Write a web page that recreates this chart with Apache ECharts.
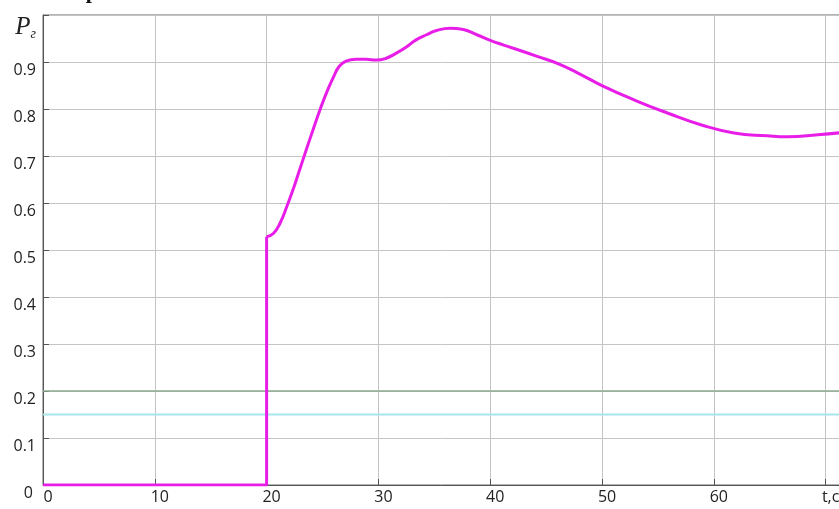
<!DOCTYPE html>
<html>
<head>
<meta charset="utf-8">
<script src="https://cdn.jsdelivr.net/npm/echarts@6/dist/echarts.min.js"></script>
<style>html,body{margin:0;padding:0;background:#fff}#c{width:839px;height:509px}</style>
</head>
<body>
<div id="c"></div>
<script>
// time, s
const tValues = [0, 20, 20, 20.6, 21.2, 21.8, 22.4, 23.0, 23.6, 24.2, 24.8, 25.4, 26.0, 26.5, 27.1, 28.0, 28.9, 29.8, 30.7, 31.6, 32.5, 33.3, 34.3, 35.2, 36.4, 37.6, 38.8, 40.0, 41.2, 42.6, 44.2, 46.0, 47.8, 49.9, 52.9, 55.9, 58.9, 61.8, 64.8, 66.6, 69.3, 71.5];
// generator power
const pValues = [0, 0, 0.528, 0.535, 0.557, 0.592, 0.631, 0.674, 0.717, 0.759, 0.800, 0.837, 0.869, 0.891, 0.902, 0.906, 0.906, 0.904, 0.908, 0.919, 0.932, 0.946, 0.958, 0.967, 0.972, 0.969, 0.958, 0.946, 0.936, 0.925, 0.912, 0.897, 0.877, 0.851, 0.819, 0.791, 0.766, 0.749, 0.743, 0.741, 0.745, 0.750];
// horizontal reference levels
const greenLevel = 0.2;
const cyanLevel = 0.15;
const xTicks = [0, 10, 20, 30, 40, 50, 60, 70];
const xNameLabel = 't,c';
const yNameMain = 'P';
const yNameSub = 'г';

const pts = tValues.map((t, i) => [t, pValues[i]]);
const stepPart = pts.slice(0, 3);
const curvePart = pts.slice(2);
const X_MAX = 72;

const chart = echarts.init(document.getElementById('c'), null, {renderer: 'canvas'});
chart.setOption({
  backgroundColor: '#fff',
  animation: false,
  grid: {left: 43, top: 15, right: -9, bottom: 24, show: true, borderColor: '#666', borderWidth: 1, containLabel: false, outerBoundsMode: 'none'},
  xAxis: {
    type: 'value', min: 0, max: X_MAX, interval: 10,
    axisLine: {show: true, lineStyle: {color: '#555', width: 1}},
    axisTick: {show: true, inside: true, length: 6, lineStyle: {color: '#555'}},
    splitLine: {show: true, lineStyle: {color: '#c4c4c4', width: 1}},
    axisLabel: {
      fontFamily: 'Open Sans', fontSize: 16, color: '#222', margin: 4,
      padding: [0, 0, 0, 10],
      showMaxLabel: true,
      formatter: v => {
        if (v === 70) return xNameLabel;
        return xTicks.includes(v) ? String(v) : '';
      }
    }
  },
  yAxis: {
    type: 'value', min: 0, max: 1, interval: 0.1,
    axisLine: {show: true, lineStyle: {color: '#555', width: 1}},
    axisTick: {show: true, inside: true, length: 6, lineStyle: {color: '#555'}},
    splitLine: {show: true, lineStyle: {color: '#c4c4c4', width: 1}},
    axisLabel: {
      fontFamily: 'Open Sans', fontSize: 16, color: '#222', margin: 7,
      verticalAlign: 'top',
      formatter: v => {
        const r = Math.round(v * 10) / 10;
        if (r === 1) return '{p|' + yNameMain + '}{s|' + yNameSub + '}';
        if (r === 0) return '{z|0}';
        return r.toFixed(1);
      },
      rich: {
        p: {fontFamily: 'Liberation Serif', fontStyle: 'italic', fontSize: 25, color: '#222', verticalAlign: 'top'},
        s: {fontFamily: 'Liberation Serif', fontStyle: 'italic', fontSize: 14, color: '#222', verticalAlign: 'bottom', padding: [12, 0, 0, 0]},
        z: {fontFamily: 'Open Sans', fontSize: 16, color: '#222', padding: [0, 3, 0, 0]}
      }
    }
  },
  graphic: [{
    type: 'text', left: 40, top: -19,
    style: {text: 'а на рис. 3.', fontFamily: 'Liberation Serif', fontSize: 22, fontWeight: 'bold', fill: '#111'}
  }],
  series: [
    {type: 'line', data: [[0, greenLevel], [X_MAX, greenLevel]], showSymbol: false, lineStyle: {color: '#8fab8f', width: 1.5}, z: 2},
    {type: 'line', data: [[0, cyanLevel], [X_MAX, cyanLevel]], showSymbol: false, lineStyle: {color: '#a8e6ec', width: 2}, z: 2},
    {type: 'line', data: stepPart, showSymbol: false, lineStyle: {color: '#e81ee8', width: 3}, z: 5},
    {type: 'line', data: curvePart, showSymbol: false, smooth: 0.5, lineStyle: {color: '#e81ee8', width: 3}, z: 5}
  ]
});
</script>
</body>
</html>
